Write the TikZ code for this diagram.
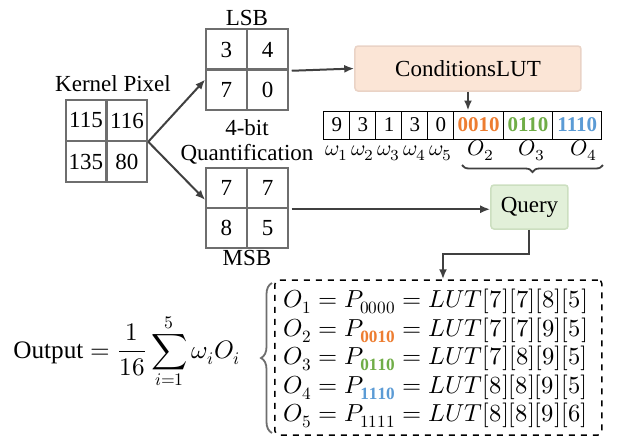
\documentclass[tikz,border=0pt]{standalone}
\usepackage{fontspec}
\usepackage{unicode-math}
\setmainfont{Liberation Serif}
\setmathfont{Latin Modern Math}
\newfontfamily\labelfont{Liberation Serif}
\usetikzlibrary{arrows.meta,calc,decorations.pathreplacing}

\definecolor{gridgray}{HTML}{6E6E6E}
\definecolor{arrgray}{HTML}{404040}
\definecolor{lutfill}{HTML}{FBE5D6}
\definecolor{lutdraw}{HTML}{EAD3C6}
\definecolor{qfill}{HTML}{E2F0D9}
\definecolor{qdraw}{HTML}{CCDFC0}
\definecolor{cOrange}{HTML}{ED7D31}
\definecolor{cGreen}{HTML}{70AD47}
\definecolor{cBlue}{HTML}{5B9BD5}

\tikzset{
  txt/.style={inner sep=0pt, font=\labelfont\fontsize{11.5}{13}\selectfont},
  cell/.style={draw=gridgray, line width=1pt, minimum size=20.25pt, inner sep=0pt,
    font=\labelfont\fontsize{11.5}{13}\selectfont},
  slot/.style={draw=black, line width=0.5pt, minimum width=13pt, minimum height=14pt,
    inner sep=0pt, font=\labelfont\fontsize{10.5}{12}\selectfont},
  wideslot/.style={slot, minimum width=24.67pt, font=\labelfont\fontsize{10.5}{12}\selectfont\bfseries},
  arr/.style={draw=arrgray, line width=1pt, -{Latex[length=5pt,width=4pt]}},
  eq/.style={anchor=base west, inner sep=0pt, font=\fontsize{12.3}{14}\selectfont},
}

\begin{document}
\begin{tikzpicture}[x=0.5pt,y=-0.5pt]
	\useasboundingbox (0,0) rectangle (618,441);
	% kernel pixel
	\node[txt,anchor=base] (kt) at (113,91) {Kernel Pixel};
	\node[cell] (k11) at (86,120.5) {115};
	\node[cell] (k12) at (127,120.5) {116};
	\node[cell] (k21) at (86,161.5) {135};
	\node[cell] (k22) at (127,161.5) {80};
	% LSB
	\node[txt,anchor=base] (lt) at (247,25) {LSB};
	\node[cell] (l11) at (226.5,49.5) {3};
	\node[cell] (l12) at (267.5,49.5) {4};
	\node[cell] (l21) at (226.5,89.5) {7};
	\node[cell] (l22) at (267.5,89.5) {0};
	\node[txt,anchor=base] (q1) at (247,135) {4-bit};
	\node[txt,anchor=base] (q2) at (247,160) {Quantification};
	% MSB
	\node[cell] (m11) at (226.5,188) {7};
	\node[cell] (m12) at (267.5,188) {7};
	\node[cell] (m21) at (226.5,228) {8};
	\node[cell] (m22) at (267.5,228) {5};
	\node[txt,anchor=base] (mt) at (247,265) {MSB};
	% LUT and query
	\node[txt,draw=lutdraw,fill=lutfill,line width=0.75pt,rounded corners=1.5pt,
		minimum width=113pt,minimum height=22.5pt] (lut) at (468,68.5) {ConditionsLUT};
	\node[txt,draw=qdraw,fill=qfill,line width=0.75pt,rounded corners=1.5pt,
		minimum width=38.5pt,minimum height=22pt] (query) at (529.5,207) {Query};
	% condition array
	\node[slot] (a1) at (337,125) {9};
	\node[slot] (a2) at (363,125) {3};
	\node[slot] (a3) at (389,125) {1};
	\node[slot] (a4) at (415,125) {3};
	\node[slot] (a5) at (441,125) {0};
	\node[wideslot,text=cOrange] (a6) at (478.67,125) {0010};
	\node[wideslot,text=cGreen] (a7) at (528,125) {0110};
	\node[wideslot,text=cBlue] (a8) at (577.33,125) {1110};
	\foreach \i in {1,...,5}
		\node[anchor=base,inner sep=0pt,font=\fontsize{11}{13}\selectfont] (w\i) at (a\i |- 0,155) {$\omega_{\i}$};
	\node[anchor=base,inner sep=0pt,font=\fontsize{11}{13}\selectfont] (o2) at (481,155) {$O_2$};
	\node[anchor=base,inner sep=0pt,font=\fontsize{11}{13}\selectfont] (o3) at (532,155) {$O_3$};
	\node[anchor=base,inner sep=0pt,font=\fontsize{11}{13}\selectfont] (o4) at (584,155) {$O_4$};
	\coordinate (br1) at (603,165);
	\coordinate (br2) at (462,165);
	\draw[arrgray,line width=0.9pt,decorate,decoration={brace,amplitude=3.5pt}] (br1) -- (br2);
	% equations
	\node[draw=black,dashed,line width=0.75pt,rounded corners=2pt,
		minimum width=163.5pt,minimum height=77.5pt] (eqbox) at (438.5,357.5) {};
	\node[eq] (e1) at (283,307.5) {$O_1=P_{0000}=LUT[7][7][8][5]$};
	\node[eq] (e2) at (283,336) {$O_2=P_{\textcolor{cOrange}{\mathbf{0010}}}=LUT[7][7][9][5]$};
	\node[eq] (e3) at (283,364.5) {$O_3=P_{\textcolor{cGreen}{\mathbf{0110}}}=LUT[7][8][9][5]$};
	\node[eq] (e4) at (283,393) {$O_4=P_{\textcolor{cBlue}{\mathbf{1110}}}=LUT[8][8][9][5]$};
	\node[eq] (e5) at (283,421.5) {$O_5=P_{1111}=LUT[8][8][9][6]$};
	\coordinate (lb1) at (272,433);
	\coordinate (lb2) at (272,283);
	\draw[gridgray,line width=0.9pt,decorate,decoration={brace,amplitude=5.5pt}] (lb1) -- (lb2);
	\node[anchor=base west,inner sep=0pt,font=\fontsize{12.6}{15}\selectfont] (out) at (13,358)
		{$\mathrm{Output}=\displaystyle\frac{1}{16}\sum_{i=1}^{5}\omega_iO_i$};
	% connectors
	\draw[arr] (k12.south east) -- ($(l21.west)+(0,-10)$);
	\draw[arr] (k12.south east) -- ($(m11.west)+(0,12)$);
	\draw[arr] ([xshift=1.5pt]l12.south east) -- (lut.west);
	\draw[arr] (lut.south) -- (lut.south |- a6.north);
	\draw[arr] ([xshift=1.5pt]m12.south east) -- (m12.south east -| query.west);
	\draw[arr] (query.south) -- ++(0,24) -| ($(eqbox.north)+(4.5,0)$);
\end{tikzpicture}
\end{document}
